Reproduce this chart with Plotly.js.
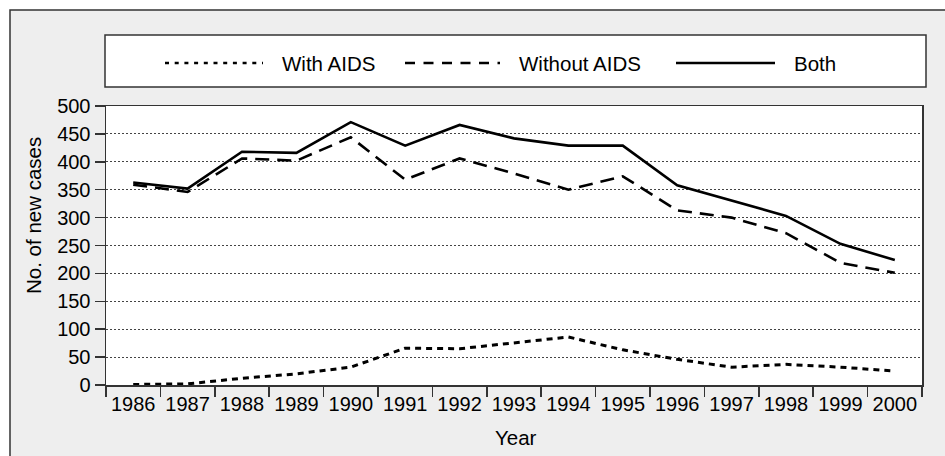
<!DOCTYPE html>
<html>
<head>
<meta charset="utf-8">
<script src="https://cdn.plot.ly/plotly-3.0.1.min.js"></script>
<style>
  html, body { margin: 0; padding: 0; background: #ffffff; }
  #chart { width: 945px; height: 456px; }
</style>
</head>
<body>
<div id="chart"></div>
<script>
// ---- data ----
var years = ["1986","1987","1988","1989","1990","1991","1992","1993","1994","1995","1996","1997","1998","1999","2000"];
var withAids = [1, 2, 12, 20, 32, 66, 65, 76, 86, 63, 46, 32, 37, 32, 25];
var withoutAids = [359, 346, 406, 402, 444, 368, 406, 379, 350, 374, 313, 300, 272, 219, 201];
var both = [363, 352, 418, 416, 471, 429, 466, 442, 429, 429, 358, 330, 303, 253, 224];
var seriesNames = ["With AIDS", "Without AIDS", "Both"];
var yTicks = [0, 50, 100, 150, 200, 250, 300, 350, 400, 450, 500];

// ---- layout geometry (pixels) ----
var FW = 945, FH = 456;
var L = 106, T = 106, R = 922, B = 385;
var PW = R - L, PH = B - T;
function px(x) { return (x - L) / PW; }
function py(y) { return (B - y) / PH; }

var FONT = "Liberation Sans, Arial, Helvetica, sans-serif";
var INK = "#000000";
var AX = "#333333";

var dashes = ["6px,5px", "14px,8px", "solid"];
var legendDashes = ["4px,5.7px", "10px,8.5px", "solid"];

var traces = [
  { x: years, y: withAids, name: seriesNames[0], type: "scatter", mode: "lines",
    line: { color: INK, width: 3, dash: dashes[0] } },
  { x: years, y: withoutAids, name: seriesNames[1], type: "scatter", mode: "lines",
    line: { color: INK, width: 2.6, dash: dashes[1] } },
  { x: years, y: both, name: seriesNames[2], type: "scatter", mode: "lines",
    line: { color: INK, width: 2.6, dash: dashes[2] } }
];

var shapes = [
  // outer frame
  { type: "rect", xref: "paper", yref: "paper", layer: "below",
    x0: px(10), x1: px(FW + 20), y0: py(FH + 20), y1: py(10),
    fillcolor: "#eeeeee", line: { color: "#333333", width: 1.5 } },
  // plot area background
  { type: "rect", xref: "paper", yref: "paper", layer: "below",
    x0: 0, x1: 1, y0: 0, y1: 1, fillcolor: "#ffffff", line: { width: 0 } },
  // legend box
  { type: "rect", xref: "paper", yref: "paper", layer: "below",
    x0: px(105), x1: px(926), y0: py(87), y1: py(35),
    fillcolor: "#ffffff", line: { color: "#333333", width: 1.5 } }
];

// legend samples
var legY = 63;
var legLines = [[165, 263], [405, 500], [676, 775]];
var legText = [280, 517, 792];
var annotations = [];
for (var i = 0; i < 3; i++) {
  shapes.push({ type: "line", xref: "paper", yref: "paper",
    x0: px(legLines[i][0]), x1: px(legLines[i][1]), y0: py(legY), y1: py(legY),
    line: { color: INK, width: i === 0 ? 2.4 : 2.6, dash: legendDashes[i] } });
  annotations.push({ xref: "paper", yref: "paper", x: px(legText[i]), y: py(legY),
    xanchor: "left", yanchor: "middle", showarrow: false, text: seriesNames[i],
    font: { family: FONT, size: 20.5, color: INK } });
}
// axis titles
annotations.push({ xref: "paper", yref: "paper", x: px(33), y: py(216),
  xanchor: "center", yanchor: "middle", showarrow: false, textangle: -90,
  text: "No. of new cases", font: { family: FONT, size: 20.5, color: INK } });
annotations.push({ xref: "paper", yref: "paper", x: px(516), y: py(437),
  xanchor: "center", yanchor: "middle", showarrow: false,
  text: "Year", font: { family: FONT, size: 20.5, color: INK } });

var layout = {
  width: FW, height: FH,
  margin: { l: L, r: FW - R, t: T, b: FH - B, pad: 0 },
  paper_bgcolor: "#ffffff",
  plot_bgcolor: "rgba(0,0,0,0)",
  showlegend: false,
  hovermode: false,
  font: { family: FONT, size: 20, color: INK },
  xaxis: {
    type: "category", range: [-0.5, years.length - 0.5],
    tickson: "boundaries", ticks: "outside", ticklen: 10, tickwidth: 1.5, tickcolor: AX,
    showline: true, linecolor: AX, linewidth: 1.5, mirror: true,
    showgrid: false, zeroline: false,
    tickfont: { family: FONT, size: 20, color: INK }
  },
  yaxis: {
    range: [0, 500], tickvals: yTicks, ticktext: yTicks.map(String),
    ticks: "outside", ticklen: 10, tickwidth: 1.5, tickcolor: AX,
    showline: true, linecolor: AX, linewidth: 1.5, mirror: true,
    showgrid: true, gridcolor: "#444444", gridwidth: 1, griddash: "2px,2px",
    zeroline: false,
    tickfont: { family: FONT, size: 20, color: INK }
  },
  shapes: shapes,
  annotations: annotations
};

Plotly.newPlot("chart", traces, layout, { staticPlot: true, displayModeBar: false });
</script>
</body>
</html>
